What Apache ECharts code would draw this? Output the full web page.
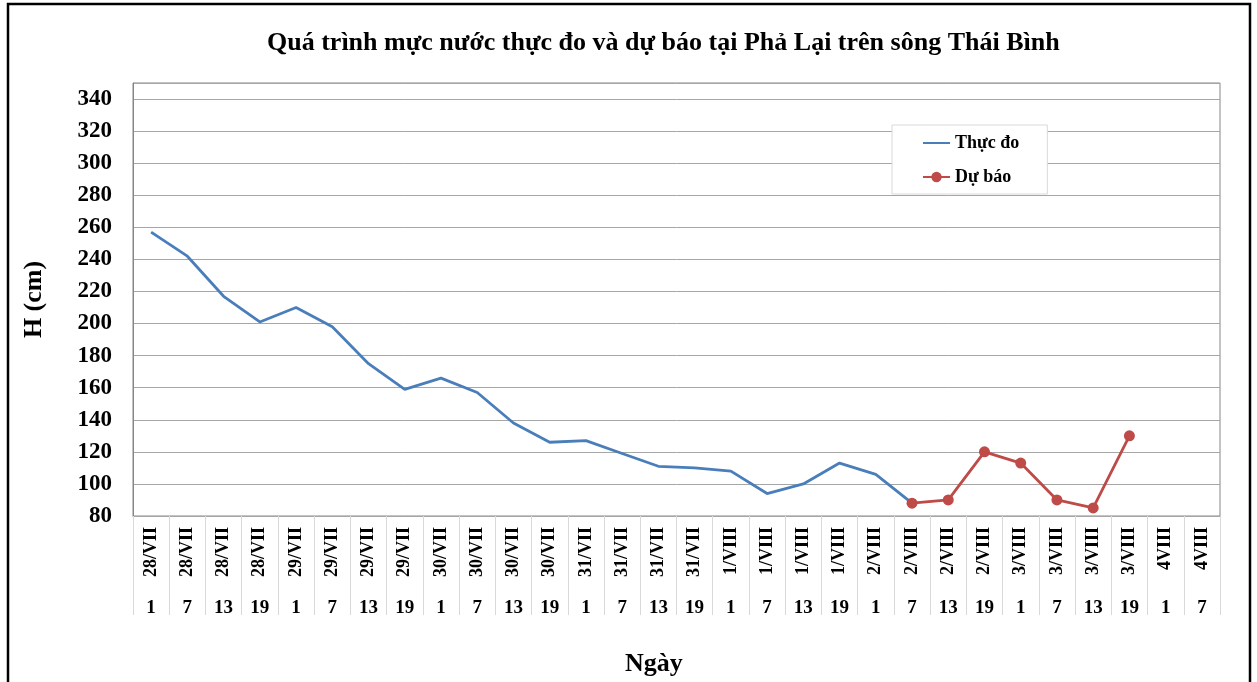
<!DOCTYPE html>
<html>
<head>
<meta charset="utf-8">
<script src="https://cdn.jsdelivr.net/npm/echarts@6/dist/echarts.min.js"></script>
<style>
  html, body { margin: 0; padding: 0; background: #fff; }
  #chart { width: 1257px; height: 682px; }
</style>
</head>
<body>
<div id="chart"></div>
<script>
var chart = echarts.init(document.getElementById("chart"));

// nhãn trục hoành: ngày và giờ
var days = [
  "28/VII", "28/VII", "28/VII", "28/VII",
  "29/VII", "29/VII", "29/VII", "29/VII",
  "30/VII", "30/VII", "30/VII", "30/VII",
  "31/VII", "31/VII", "31/VII", "31/VII",
  "1/VIII", "1/VIII", "1/VIII", "1/VIII",
  "2/VIII", "2/VIII", "2/VIII", "2/VIII",
  "3/VIII", "3/VIII", "3/VIII", "3/VIII",
  "4VIII", "4VIII"
];
var hours = [
  "1", "7", "13", "19", "1", "7", "13", "19", "1", "7", "13", "19",
  "1", "7", "13", "19", "1", "7", "13", "19", "1", "7", "13", "19",
  "1", "7", "13", "19", "1", "7"
];
// mực nước thực đo (cm)
var thucDo = [
  257, 242, 217, 201, 210, 198, 175, 159, 166, 157, 138, 126,
  127, 119, 111, 110, 108, 94, 100, 113, 106, 88,
  null, null, null, null, null, null, null, null
];
// mực nước dự báo (cm)
var duBao = [
  null, null, null, null, null, null, null, null, null, null, null, null,
  null, null, null, null, null, null, null, null, null,
  88, 90, 120, 113, 90, 85, 130, null, null
];

var serif = "'Liberation Serif', 'Times New Roman', serif";

var option = {
  animation: false,
  backgroundColor: "#fff",
  graphic: [
    {
      // khung ngoài
      type: "rect",
      shape: { x: 8, y: 4, width: 1242, height: 700 },
      style: { fill: "none", stroke: "#000", lineWidth: 2.5 },
      silent: true
    }
  ],
  title: [
    {
      text: "Quá trình mực nước thực đo và dự báo tại Phả Lại trên sông Thái Bình",
      left: 262,
      top: 25,
      textStyle: { fontFamily: serif, fontWeight: "bold", fontSize: 26, color: "#000" }
    },
    {
      text: "Ngày",
      left: 620,
      top: 646,
      textStyle: { fontFamily: serif, fontWeight: "bold", fontSize: 26, color: "#000" }
    }
  ],
  legend: {
    orient: "vertical",
    left: 892,
    top: 125,
    padding: [9, 28, 8, 30],
    itemGap: 16,
    itemWidth: 27,
    itemHeight: 13,
    borderColor: "#d9d9d9",
    borderWidth: 1,
    backgroundColor: "#fff",
    textStyle: { fontFamily: serif, fontWeight: "bold", fontSize: 18, color: "#000" },
    data: [
      { name: "Thực đo", itemStyle: { opacity: 0 } },
      { name: "Dự báo" }
    ]
  },
  grid: {
    left: 133,
    right: 37,
    top: 83,
    bottom: 166,
    show: true,
    borderColor: "#868686",
    borderWidth: 1
  },
  xAxis: [
    {
      type: "category",
      data: days,
      position: "bottom",
      boundaryGap: true,
      axisLine: { lineStyle: { color: "#a6a6a6", width: 1 } },
      axisTick: {
        show: true,
        interval: 0,
        length: 99,
        lineStyle: { color: "#d9d9d9", width: 1 }
      },
      axisLabel: {
        interval: 0,
        rotate: 90,
        margin: 11,
        fontFamily: serif,
        fontWeight: "bold",
        fontSize: 18,
        color: "#000"
      },
      splitLine: { show: false }
    },
    {
      type: "category",
      data: hours,
      position: "bottom",
      boundaryGap: true,
      axisLine: { show: false },
      axisTick: { show: false },
      axisLabel: {
        interval: 0,
        margin: 83,
        fontFamily: serif,
        fontWeight: "bold",
        fontSize: 19,
        color: "#000"
      },
      splitLine: { show: false }
    }
  ],
  yAxis: {
    type: "value",
    min: 80,
    max: 350,
    interval: 20,
    name: "H (cm)",
    nameLocation: "middle",
    nameGap: 86,
    nameTextStyle: { fontFamily: serif, fontWeight: "bold", fontSize: 26, color: "#000" },
    axisLine: { show: true, lineStyle: { color: "#868686" } },
    axisTick: { show: false },
    axisLabel: {
      showMaxLabel: false,
      margin: 21,
      fontFamily: serif,
      fontWeight: "bold",
      fontSize: 23,
      color: "#000"
    },
    splitLine: { show: true, lineStyle: { color: "#a6a6a6", width: 1 } }
  },
  series: [
    {
      name: "Thực đo",
      type: "line",
      xAxisIndex: 0,
      data: thucDo,
      symbol: "none",
      lineStyle: { color: "#4a7ebb", width: 2.8 },
      itemStyle: { color: "#4a7ebb" }
    },
    {
      name: "Dự báo",
      type: "line",
      xAxisIndex: 0,
      data: duBao,
      symbol: "circle",
      symbolSize: 11,
      lineStyle: { color: "#be4b48", width: 2.8 },
      itemStyle: { color: "#be4b48" }
    }
  ]
};
chart.setOption(option);
</script>
</body>
</html>
